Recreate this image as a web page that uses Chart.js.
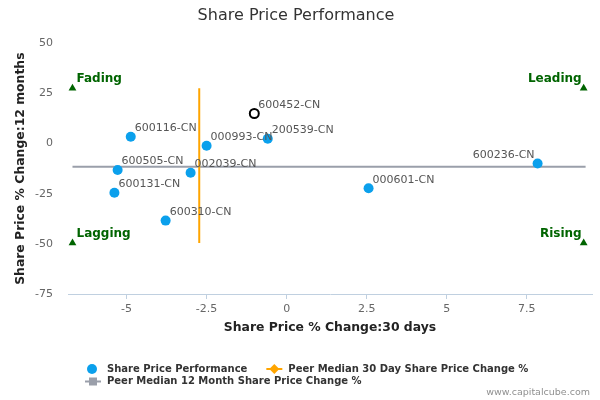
<!DOCTYPE html>
<html>
<head>
<meta charset="utf-8">
<script src="https://cdn.jsdelivr.net/npm/chart.js@4/dist/chart.umd.min.js"></script>
<style>
  html, body { margin: 0; padding: 0; background: #fff; }
</style>
</head>
<body>
<canvas id="chart" width="600" height="400"></canvas>
<script>
// company codes with their 30 day / 12 month share price change (%)
const companies = ['600116-CN', '000993-CN', '600452-CN', '200539-CN', '600505-CN',
                   '002039-CN', '600131-CN', '600310-CN', '000601-CN', '600236-CN'];
const change30d = [-4.87, -2.5, -1.01, -0.59, -5.28, -3.0, -5.38, -3.78, 2.56, 7.84];
const change12m = [3.4, -1.1, 15.0, 2.4, -13.2, -14.5, -24.5, -38.4, -22.3, -9.9];
const highlighted = '600452-CN';

const peerMedian30d = -2.73;
const peerMedian12m = -11.6;

// quadrant corner markers
const quadrantNames = ['Fading', 'Leading', 'Lagging', 'Rising'];
const quadrantX = [-6.69, 9.28, -6.69, 9.28];
const quadrantY = [27.6, 27.6, -49.6, -49.6];

const xTicks = [-5, -2.5, 0, 2.5, 5, 7.5];
const yTicks = [-75, -50, -25, 0, 25, 50];

const FONT = '"DejaVu Sans", Verdana, sans-serif';
Chart.defaults.font.family = FONT;

const BLUE = '#0ba0ec';
const ORANGE = '#ffa500';
const GREY = '#9a9faa';
const GREEN = '#006400';

const annotate = {
    id: 'annotate',
    afterDatasetsDraw(chart) {
        const ctx = chart.ctx;
        const xs = chart.scales.x, ys = chart.scales.y;
        const area = chart.chartArea;
        ctx.save();
        ctx.textBaseline = 'middle';

        // point labels, kept inside the plot area
        ctx.font = '11px ' + FONT;
        ctx.fillStyle = '#555555';
        companies.forEach((name, i) => {
            const px = xs.getPixelForValue(change30d[i]);
            const py = ys.getPixelForValue(change12m[i]) - 8.5;
            const w = ctx.measureText(name).width;
            if (px + 4 + w > area.right) {
                ctx.textAlign = 'right';
                ctx.fillText(name, px - 3, py);
            } else {
                ctx.textAlign = 'left';
                ctx.fillText(name, px + 4, py);
            }
        });

        // quadrant labels
        ctx.font = 'bold 12px ' + FONT;
        ctx.fillStyle = GREEN;
        quadrantNames.forEach((name, i) => {
            const px = xs.getPixelForValue(quadrantX[i]);
            const py = ys.getPixelForValue(quadrantY[i]);
            if (i % 2 === 0) {
                ctx.textAlign = 'left';
                ctx.fillText(name, px + 4, py - 9);
            } else {
                ctx.textAlign = 'right';
                ctx.fillText(name, px - 2, py - 9);
            }
        });
        ctx.restore();
    },
    afterDraw(chart) {
        const ctx = chart.ctx;
        ctx.save();
        ctx.textBaseline = 'middle';
        ctx.textAlign = 'left';
        ctx.font = 'bold 10px ' + FONT;

        const drawSymbol = (kind, x, y) => {
            const cx = x + 8;
            if (kind === 'circle') {
                ctx.fillStyle = BLUE;
                ctx.beginPath();
                ctx.arc(cx - 1, y, 5, 0, Math.PI * 2);
                ctx.fill();
                return;
            }
            const color = kind === 'diamond' ? ORANGE : GREY;
            ctx.strokeStyle = color;
            ctx.fillStyle = color;
            ctx.lineWidth = 2;
            ctx.beginPath();
            ctx.moveTo(x, y);
            ctx.lineTo(x + 16, y);
            ctx.stroke();
            ctx.beginPath();
            if (kind === 'diamond') {
                ctx.moveTo(cx, y - 5);
                ctx.lineTo(cx + 5, y);
                ctx.lineTo(cx, y + 5);
                ctx.lineTo(cx - 5, y);
                ctx.closePath();
                ctx.fill();
            } else {
                ctx.fillRect(cx - 4, y - 4, 8, 8);
            }
        };

        const rows = [
            [['circle', 'Share Price Performance'], ['diamond', 'Peer Median 30 Day Share Price Change %']],
            [['square', 'Peer Median 12 Month Share Price Change %']]
        ];
        const rowY = [369, 381.5];
        rows.forEach((row, r) => {
            let x = 85;
            row.forEach(([kind, text]) => {
                drawSymbol(kind, x, rowY[r]);
                ctx.fillStyle = '#333333';
                ctx.fillText(text, x + 22, rowY[r]);
                x += 22 + ctx.measureText(text).width + 19;
            });
        });

        // credits
        ctx.font = '9.5px ' + FONT;
        ctx.fillStyle = '#909090';
        ctx.textAlign = 'right';
        ctx.fillText('www.capitalcube.com', 590, 393);
        ctx.restore();
    }
};

const points = companies.map((c, i) => ({ x: change30d[i], y: change12m[i] }));
const isHi = (ctx) => companies[ctx.dataIndex] === highlighted;

new Chart(document.getElementById('chart'), {
    type: 'scatter',
    data: {
        datasets: [
            {
                label: 'Share Price Performance',
                data: points,
                pointRadius: (c) => isHi(c) ? 4.5 : 5,
                pointBackgroundColor: (c) => isHi(c) ? '#ffffff' : BLUE,
                pointBorderColor: (c) => isHi(c) ? '#000000' : BLUE,
                pointBorderWidth: (c) => isHi(c) ? 2 : 0
            },
            {
                label: 'Quadrants',
                data: quadrantX.map((x, i) => ({ x: x, y: quadrantY[i] })),
                pointStyle: 'triangle',
                pointRadius: 4.5,
                pointBackgroundColor: GREEN,
                pointBorderWidth: 0
            },
            {
                label: 'Peer Median 30 Day Share Price Change %',
                data: [{ x: peerMedian30d, y: quadrantY[0] }, { x: peerMedian30d, y: quadrantY[2] }],
                showLine: true,
                borderColor: ORANGE,
                borderWidth: 2,
                pointRadius: 0
            },
            {
                label: 'Peer Median 12 Month Share Price Change %',
                data: [{ x: quadrantX[0], y: peerMedian12m }, { x: quadrantX[1] + 0.06, y: peerMedian12m }],
                showLine: true,
                borderColor: GREY,
                borderWidth: 2,
                pointRadius: 0
            }
        ]
    },
    options: {
        responsive: false,
        animation: false,
        events: [],
        layout: { padding: { left: 0, right: 8, top: 0, bottom: 56 } },
        plugins: {
            legend: { display: false },
            tooltip: { enabled: false },
            title: {
                display: true,
                text: 'Share Price Performance',
                color: '#333333',
                font: { size: 16, weight: 'normal' },
                padding: { top: 6.4, bottom: 17.7 }
            }
        },
        scales: {
            x: {
                type: 'linear',
                min: -6.83,
                max: 9.54,
                afterBuildTicks: (axis) => { axis.ticks = xTicks.map(v => ({ value: v })); },
                afterFit: (axis) => { axis.height = 50; },
                grid: { display: true, drawOnChartArea: false, drawTicks: true, tickLength: 5, color: '#c0d0e0' },
                border: { display: true, color: '#c0d0e0', width: 1 },
                ticks: { color: '#666666', font: { size: 11 }, padding: 4, callback: (v) => String(v) },
                title: {
                    display: true,
                    text: 'Share Price % Change:30 days',
                    color: '#222222',
                    font: { size: 12.4, weight: 'bold' },
                    padding: { top: 0, bottom: 8.5 }
                }
            },
            y: {
                type: 'linear',
                min: -75,
                max: 50,
                afterBuildTicks: (axis) => { axis.ticks = yTicks.map(v => ({ value: v })); },
                afterFit: (axis) => { axis.width = 68; },
                grid: { display: false, drawTicks: false },
                border: { display: false },
                ticks: { color: '#666666', font: { size: 11 }, padding: 15, callback: (v) => String(v) },
                title: {
                    display: true,
                    text: 'Share Price % Change:12 months',
                    color: '#222222',
                    font: { size: 12.4, weight: 'bold' },
                    padding: { top: 13.5, bottom: 0 }
                }
            }
        }
    },
    plugins: [annotate]
});
</script>
</body>
</html>
